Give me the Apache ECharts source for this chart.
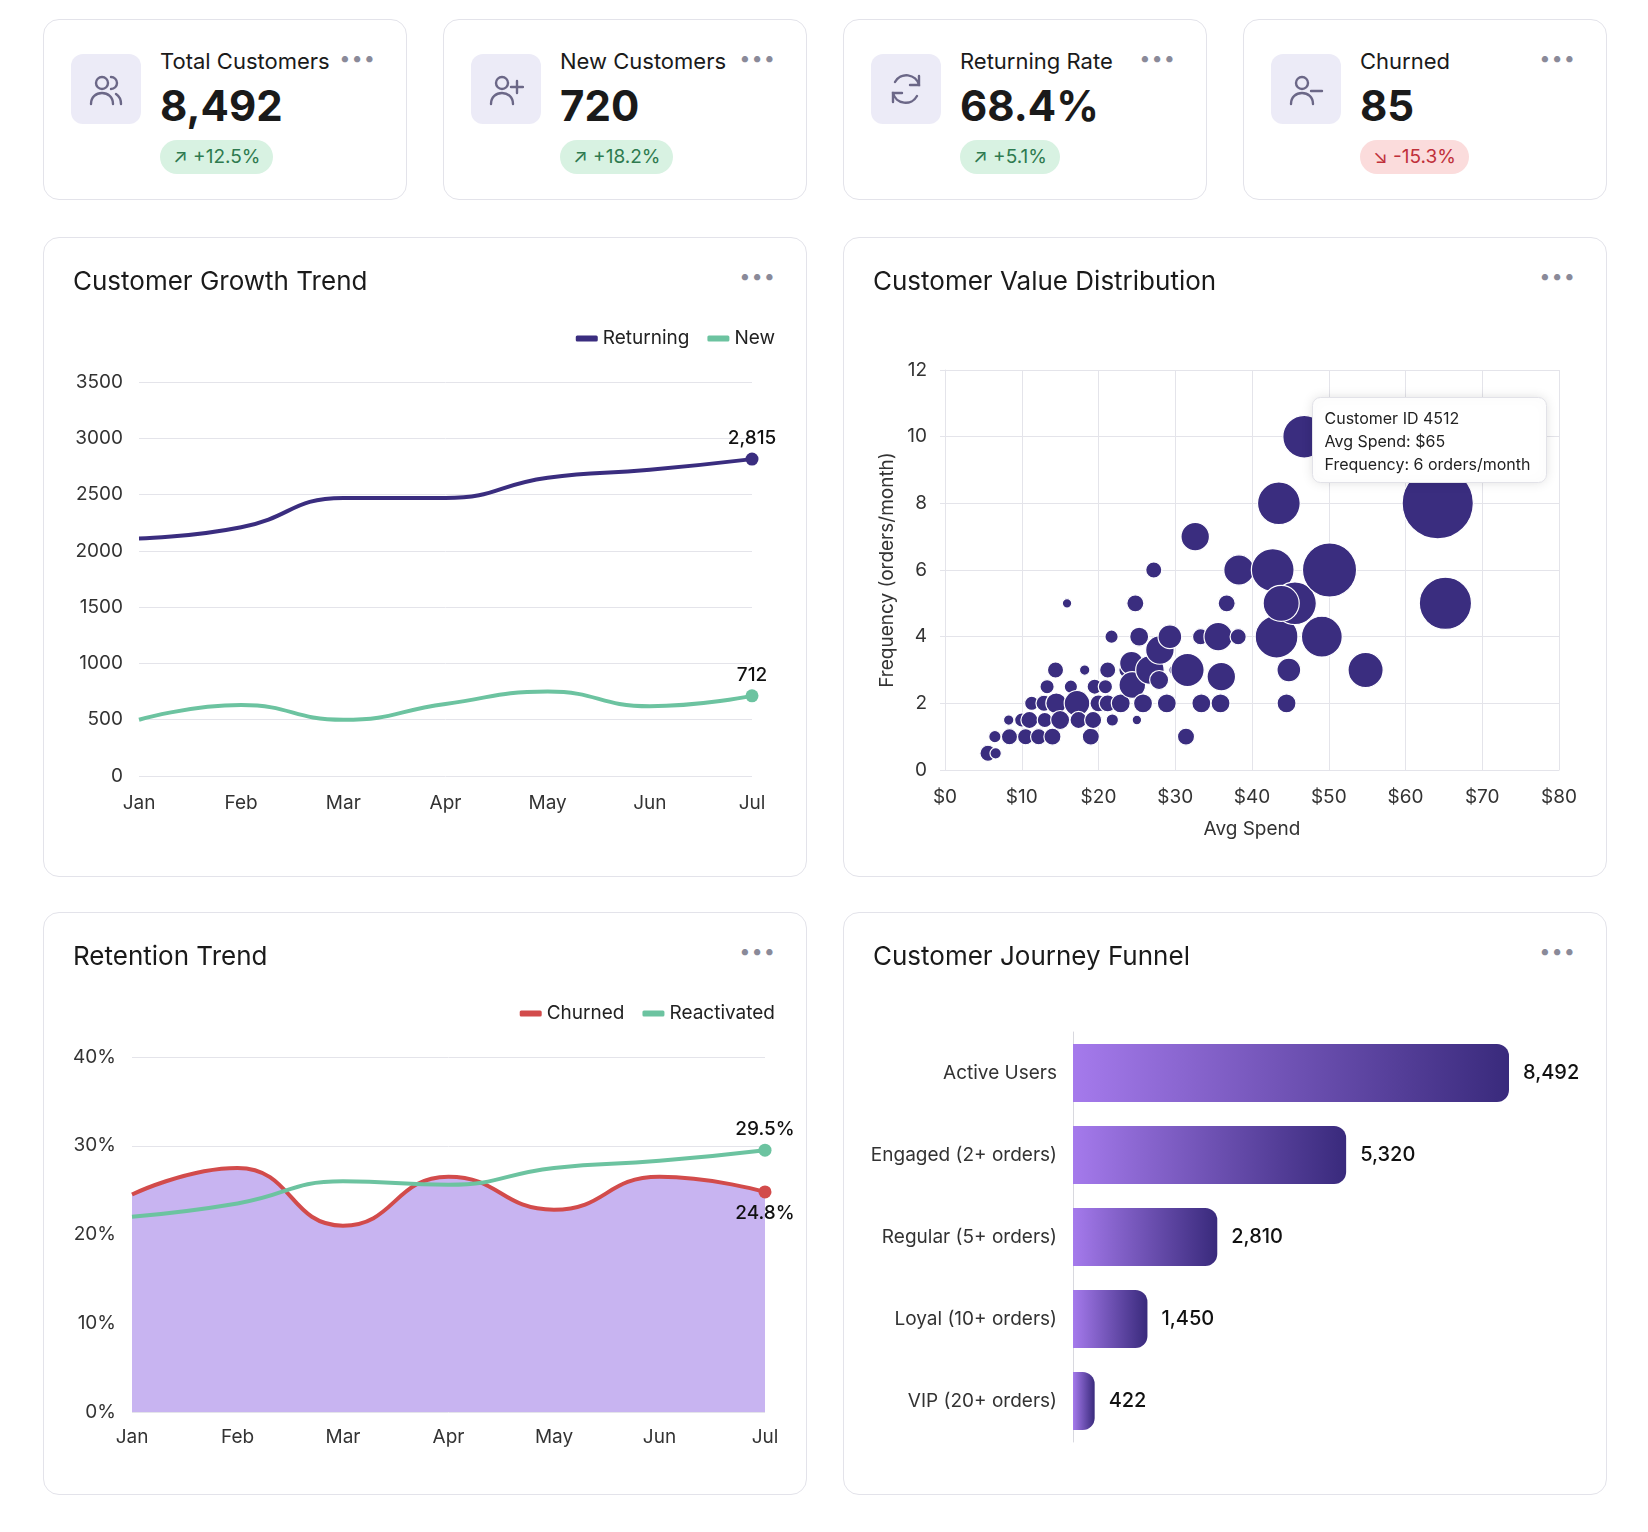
<!DOCTYPE html>
<html>
<head>
<meta charset="utf-8">
<script src="https://cdn.jsdelivr.net/npm/echarts@6/dist/echarts.min.js"></script>
<style>
  body { margin:0; background:#fff; font-family:Inter, "Noto Sans", sans-serif; color:#1a1a1a; }
  .page { position:relative; width:1648px; height:1532px; }
  .card, .panel { position:absolute; box-sizing:border-box; border:1.5px solid #e3e3ea; border-radius:16px; background:#fff; }
  .card { width:364px; height:181px; top:19px; }
  .icon { position:absolute; left:27px; top:34px; width:70px; height:70px; border-radius:12px; background:#ecebf7; }
  .icon svg { position:absolute; left:17px; top:17px; }
  .ktitle { position:absolute; left:116px; top:28px; font-size:22px; }
  .kval { position:absolute; left:116px; top:60px; font-size:42px; font-weight:700; }
  .badge { position:absolute; left:116px; top:120px; height:34px; line-height:34px; padding:0 13px; border-radius:17px; font-size:19px; }
  .up { background:#d8f2e2; color:#2e7a4f; }
  .down { background:#fbdcdc; color:#c0303a; }
  .dots { position:absolute; right:30px; top:26px; font-size:20px; color:#8a8a99; letter-spacing:1px; }
  .panel { width:764px; }
  .ptitle { position:absolute; left:29px; top:27px; font-size:26px; z-index:2; }
  .chart { position:absolute; left:0; top:0; width:100%; height:100%; }
</style>
</head>
<body>
<div class="page" id="page"></div>
<script>
// ---- data ----
var kpiTitles = ['Total Customers', 'New Customers', 'Returning Rate', 'Churned'];
var kpiValues = ['8,492', '720', '68.4%', '85'];
var kpiDeltas = ['↗ +12.5%', '↗ +18.2%', '↗ +5.1%', '↘ -15.3%'];
var months = ['Jan', 'Feb', 'Mar', 'Apr', 'May', 'Jun', 'Jul'];
var returning = [2110, 2210, 2470, 2470, 2650, 2720, 2815];
var newCust = [500, 630, 500, 640, 750, 620, 712];
var churned = [24.5, 27.5, 21, 26.5, 22.8, 26.5, 24.8];
var reactivated = [22, 23.5, 26, 25.6, 27.5, 28.3, 29.5];
var funnelStages = ['Active Users', 'Engaged (2+ orders)', 'Regular (5+ orders)', 'Loyal (10+ orders)', 'VIP (20+ orders)'];
var funnelValues = [8492, 5320, 2810, 1450, 422];
// [avg spend, frequency, weight]
var customers = [
  [5.6,0.5,17],[6.6,0.5,12],[6.5,1,13],[8.3,1.5,11],[8.4,1,17],[10,1.5,15],[10.5,1,17],[11,1.5,18],
  [11.3,2,15],[12.2,1,17],[13,1.5,16],[13.3,2.5,15],[12.9,2,17],[14,1,18],[14.4,3,17],[14.5,2,22],
  [15,1.5,20],[15.9,5,10],[16.4,2.5,14],[17.2,2,27],[17.4,1.5,18],[18.2,3,11],[19,1,18],[19.3,1.5,18],
  [19.5,2.5,16],[20,2,18],[20.9,2.5,15],[21.2,2,18],[21.7,4,14],[21.8,1.5,13],[21.2,3,17],[22.9,2,20],
  [23.7,3,17],[24.3,3.2,25],[24.4,2.55,28],[24.8,5,18],[25,1.5,10],[25.3,4,20],[25.8,2,20],[26.7,3,30],
  [27.9,2.7,20],[28,3.6,30],[27.2,6,17],[28.9,2,20],[29.3,4,25],[29.9,3,12],[31.6,3,35],[31.4,1,18],
  [32.6,7,30],[33.3,4,17],[33.4,2,20],[35.6,4,30],[36,2.8,30],[35.9,2,20],[36.7,5,18],[38.2,4,17],
  [38.3,6,32],[42.7,6,45],[43.5,8,45],[44.5,2,20],[44.8,3,25],[43.2,4,45],[45.6,5,45],[43.8,5,38],
  [46.8,10,45],[49.1,4,43],[50.1,6,57],[54.8,3,37],[64.2,8,75],[65.2,5,55]
];

var PURPLE = '#3a2d7f', TEAL = '#6cc3a0', RED = '#d24b4b', GRID = '#e4e4ea';
var FONT = 'Inter, "Noto Sans", sans-serif';
var page = document.getElementById('page');

var icons = [
  '<circle cx="14" cy="12" r="6"/><path d="M3 33c0-7 5-11 11-11s11 4 11 11"/><path d="M23 6a6 6 0 0 1 0 12M28 23c3 2 5 5 5 10"/>',
  '<circle cx="14" cy="12" r="6"/><path d="M3 33c0-7 5-11 11-11s11 4 11 11"/><path d="M29 10v12M23 16h12"/>',
  '<path d="M31 14a13 13 0 0 0-24-3M5 22a13 13 0 0 0 24 3"/><path d="M31 5v9h-9M5 31v-9h9"/>',
  '<circle cx="14" cy="12" r="6"/><path d="M3 33c0-7 5-11 11-11s11 4 11 11"/><path d="M23 20h11"/>'
];
kpiTitles.forEach(function (t, i) {
  var c = document.createElement('div');
  c.className = 'card';
  c.style.left = (43 + i * 400) + 'px';
  c.innerHTML = '<div class="icon"><svg width="36" height="36" viewBox="0 0 36 36" fill="none" stroke="#6b6787" stroke-width="2.4" stroke-linecap="round">' + icons[i] + '</svg></div>' +
    '<div class="ktitle">' + t + '</div><div class="kval">' + kpiValues[i] + '</div>' +
    '<div class="badge ' + (i === 3 ? 'down' : 'up') + '">' + kpiDeltas[i] + '</div><div class="dots">•••</div>';
  page.appendChild(c);
});

function panel(left, top, h, title) {
  var p = document.createElement('div');
  p.className = 'panel';
  p.style.left = left + 'px'; p.style.top = top + 'px'; p.style.height = h + 'px';
  p.innerHTML = '<div class="ptitle">' + title + '</div><div class="dots">•••</div><div class="chart"></div>';
  page.appendChild(p);
  return echarts.init(p.querySelector('.chart'));
}

var axisLbl = { color: '#333', fontSize: 19, fontFamily: FONT };
var legendBase = { top: 86, right: 26, itemWidth: 22, itemHeight: 6, icon: 'roundRect', itemGap: 18,
  textStyle: { fontSize: 19, color: '#222', fontFamily: FONT } };

function endLabel(pos) {
  return { show: true, position: pos, fontSize: 19, color: '#111', fontFamily: FONT, fontWeight: 500,
    formatter: function (p) { return p.dataIndex === 6 ? p.data.label : ''; } };
}
function lastOnly(arr, fmt) {
  return arr.map(function (v, i) { return { value: v, label: fmt(v), symbolSize: i === 6 ? 13 : 0 }; });
}

// ---- Customer Growth Trend ----
var c1 = panel(43, 237, 640, 'Customer Growth Trend');
c1.setOption({
  animation: false,
  legend: Object.assign({ data: ['Returning', 'New'] }, legendBase),
  grid: { left: 95, right: 54, top: 144, bottom: 100 },
  xAxis: { type: 'category', data: months, boundaryGap: false, axisLine: { show: false }, axisTick: { show: false },
    axisLabel: Object.assign({ margin: 18 }, axisLbl) },
  yAxis: { type: 'value', min: 0, max: 3500, interval: 500,
    axisLabel: Object.assign({ margin: 16, formatter: function (v) { return String(v); } }, axisLbl),
    splitLine: { lineStyle: { color: GRID } } },
  series: [
    { name: 'Returning', type: 'line', smooth: true, symbol: 'circle', showSymbol: true, color: PURPLE,
      lineStyle: { width: 4 }, data: lastOnly(returning, function (v) { return v.toLocaleString('en-US'); }),
      label: endLabel('top') },
    { name: 'New', type: 'line', smooth: true, symbol: 'circle', color: TEAL,
      lineStyle: { width: 4 }, data: lastOnly(newCust, String), label: endLabel('top') }
  ]
});

// ---- Customer Value Distribution ----
var c2 = panel(843, 237, 640, 'Customer Value Distribution');
c2.setOption({
  animation: false,
  grid: { left: 101, right: 47, top: 132, bottom: 106 },
  xAxis: { type: 'value', min: 0, max: 80, interval: 10, name: 'Avg Spend', nameLocation: 'middle', nameGap: 50,
    nameTextStyle: { fontSize: 19, color: '#333', fontFamily: FONT },
    axisLine: { lineStyle: { color: GRID } }, axisTick: { show: false },
    axisLabel: Object.assign({ margin: 18, formatter: '${value}' }, axisLbl), splitLine: { lineStyle: { color: GRID } } },
  yAxis: { type: 'value', min: 0, max: 12, interval: 2, name: 'Frequency (orders/month)', nameLocation: 'middle', nameGap: 48,
    nameRotate: 90, nameTextStyle: { fontSize: 19, color: '#333', fontFamily: FONT },
    axisLine: { show: true, lineStyle: { color: GRID } }, axisLabel: Object.assign({ margin: 18 }, axisLbl),
    splitLine: { lineStyle: { color: GRID } } },
  series: [{ type: 'scatter', data: customers, symbolSize: function (d) { return d[2] * 0.95; },
    itemStyle: { color: PURPLE, opacity: 1, borderColor: '#fff', borderWidth: 1.2 } }],
  graphic: [{ type: 'group', left: 468, top: 159, z: 100, children: [
    { type: 'rect', z: 100, shape: { width: 234, height: 85, r: 8 },
      style: { fill: '#fff', stroke: '#e2e2e8', lineWidth: 1, shadowBlur: 12, shadowColor: 'rgba(0,0,0,0.12)' } },
    { type: 'text', z: 101, left: 12, top: 10, style: { text: 'Customer ID 4512\nAvg Spend: $65\nFrequency: 6 orders/month',
      fontSize: 16, lineHeight: 23, fill: '#222', fontFamily: FONT } }
  ] }]
});

// ---- Retention Trend ----
var c3 = panel(43, 912, 583, 'Retention Trend');
c3.setOption({
  animation: false,
  legend: Object.assign({ data: ['Churned', 'Reactivated'] }, legendBase),
  grid: { left: 88, right: 41, top: 144, bottom: 82 },
  xAxis: { type: 'category', data: months, boundaryGap: false, axisLine: { show: false }, axisTick: { show: false },
    axisLabel: Object.assign({ margin: 16 }, axisLbl) },
  yAxis: { type: 'value', min: 0, max: 40, interval: 10, axisLabel: Object.assign({ margin: 16, formatter: '{value}%' }, axisLbl),
    splitLine: { lineStyle: { color: GRID } } },
  series: [
    { name: 'Churned', type: 'line', smooth: true, symbol: 'circle', color: RED, lineStyle: { width: 4 },
      areaStyle: { color: '#c8b4f1', opacity: 1 },
      data: lastOnly(churned, function (v) { return v + '%'; }), label: endLabel('bottom') },
    { name: 'Reactivated', type: 'line', smooth: true, symbol: 'circle', color: TEAL, lineStyle: { width: 4 },
      data: lastOnly(reactivated, function (v) { return v + '%'; }), label: endLabel('top') }
  ]
});

// ---- Customer Journey Funnel ----
var c4 = panel(843, 912, 583, 'Customer Journey Funnel');
c4.setOption({
  animation: false,
  grid: { left: 229, right: 97, top: 119, bottom: 52 },
  xAxis: { type: 'value', min: 0, max: 8492, show: false },
  yAxis: { type: 'category', data: funnelStages, inverse: true, axisTick: { show: false },
    axisLine: { lineStyle: { color: '#d8d8df' } }, axisLabel: Object.assign({ margin: 16 }, axisLbl) },
  series: [{ type: 'bar', data: funnelValues, barWidth: 58,
    itemStyle: { borderRadius: [0, 12, 12, 0],
      color: new echarts.graphic.LinearGradient(0, 0, 1, 0, [{ offset: 0, color: '#a57aec' }, { offset: 1, color: '#392a7c' }]) },
    label: { show: true, position: 'right', distance: 14, fontSize: 20, fontWeight: 500, color: '#111', fontFamily: FONT,
      formatter: function (p) { return p.value.toLocaleString('en-US'); } } }]
});
</script>
</body>
</html>
